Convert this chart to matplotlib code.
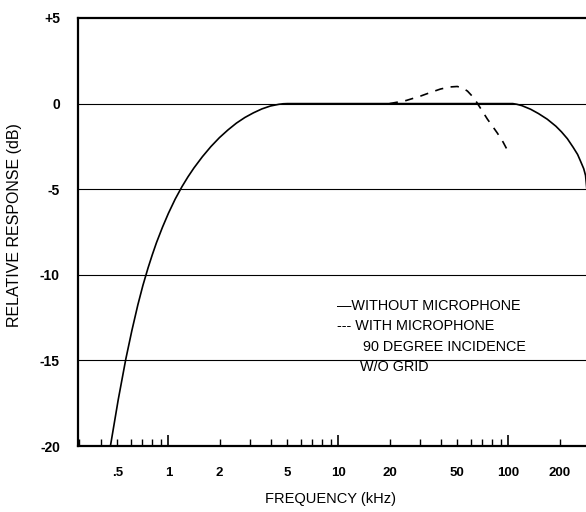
import matplotlib
matplotlib.use("Agg")
import matplotlib.pyplot as plt
from matplotlib.ticker import LogLocator, NullFormatter, FixedLocator, FixedFormatter

plt.rcParams['font.family'] = ['Liberation Sans', 'DejaVu Sans']

# Response without microphone (kHz, dB)
solid_f = [0.457, 0.507, 0.562, 0.610, 0.661, 0.708, 0.759, 0.804, 0.851, 0.923, 1.0,
           1.096, 1.202, 1.303, 1.413, 1.585, 1.778, 1.995, 2.239, 2.512, 2.818,
           3.162, 3.548, 3.981, 4.467, 4.732, 5.012,
           100, 106, 112, 120, 135, 150, 169, 190, 205, 222, 240, 255, 265, 277,
           284, 289, 293]
solid_db = [-19.95, -17.29, -14.91, -13.25, -11.76, -10.62, -9.6, -8.83, -8.12, -7.22, -6.41,
            -5.58, -4.85, -4.28, -3.76, -3.1, -2.51, -1.99, -1.54, -1.14, -0.81,
            -0.54, -0.31, -0.14, -0.04, -0.01, 0.0,
            0.0, 0.0, -0.04, -0.12, -0.33, -0.58, -0.91, -1.32, -1.65, -2.05, -2.55, -2.97, -3.35, -3.8,
            -4.2, -5.0, -6.0]

# Response with microphone, 90 degree incidence
dashed_f = [20, 25, 30.4, 35, 39.8, 45, 50, 54, 57.4, 61, 64.8, 70, 75.2, 80, 86, 93, 100]
dashed_db = [0.0, 0.18, 0.44, 0.66, 0.85, 0.97, 1.0, 0.9, 0.73, 0.45, 0.1, -0.42, -0.91,
             -1.28, -1.72, -2.25, -2.84]

x_ticks = [0.5, 1, 2, 5, 10, 20, 50, 100, 200]
x_tick_labels = ['.5', '1', '2', '5', '10', '20', '50', '100', '200']
y_ticks = [5, 0, -5, -10, -15, -20]
y_tick_labels = ['+5', '0', '-5', '-10', '-15', '-20']

fig = plt.figure(figsize=(5.86, 5.12), dpi=100)
ax = fig.add_axes([78 / 586, 66 / 512, 511.6 / 586, 428 / 512])

ax.set_xscale('log')
ax.set_xlim(0.294, 300)
ax.set_ylim(-20, 5)

# horizontal reference lines
for yv in [0, -5, -10, -15]:
    ax.axhline(yv, color='black', lw=0.8, zorder=1)

ax.plot(solid_f, solid_db, color='black', lw=1.2, zorder=3)
ax.plot(dashed_f, dashed_db, color='black', lw=1.2, dashes=(5, 4.5), zorder=3)

# frame: left, bottom, top only
for side in ['left', 'bottom', 'top']:
    ax.spines[side].set_linewidth(1.6)
ax.spines['right'].set_visible(False)

# log ticks pointing up into the plot
ax.xaxis.set_major_locator(LogLocator(base=10, numticks=10))
ax.xaxis.set_minor_locator(LogLocator(base=10, subs=range(2, 10), numticks=20))
ax.xaxis.set_major_formatter(NullFormatter())
ax.xaxis.set_minor_formatter(NullFormatter())
ax.tick_params(axis='x', which='major', direction='in', length=8, width=1.2)
ax.tick_params(axis='x', which='minor', direction='in', length=5, width=1.0)

for xv, lab in zip(x_ticks, x_tick_labels):
    ax.text(xv, -0.062, lab, transform=ax.get_xaxis_transform(),
            ha='center', va='center', fontsize=9.5, fontweight='bold')

ax.yaxis.set_major_locator(FixedLocator(y_ticks))
ax.yaxis.set_major_formatter(FixedFormatter(y_tick_labels))
ax.tick_params(axis='y', length=0, pad=13, labelsize=10)
for t in ax.get_yticklabels():
    t.set_fontweight('bold')

fig.text(15 / 586, 1 - 225 / 512, 'RELATIVE RESPONSE (dB)', rotation=90,
         ha='center', va='center', fontsize=11.5)
fig.text(330 / 586, 1 - 499 / 512, 'FREQUENCY (kHz)',
         ha='center', va='center', fontsize=10.5)

# legend written as plain text inside the plot
legend_size = 10.4
ax.text(9.8, -11.82, '\u2014WITHOUT MICROPHONE', ha='left', va='center', fontsize=legend_size)
ax.text(9.8, -12.99, '--- WITH MICROPHONE', ha='left', va='center', fontsize=legend_size)
ax.text(13.9, -14.22, '90 DEGREE INCIDENCE', ha='left', va='center', fontsize=legend_size)
ax.text(13.4, -15.39, 'W/O GRID', ha='left', va='center', fontsize=legend_size)

fig.savefig('out.png', dpi=100)
